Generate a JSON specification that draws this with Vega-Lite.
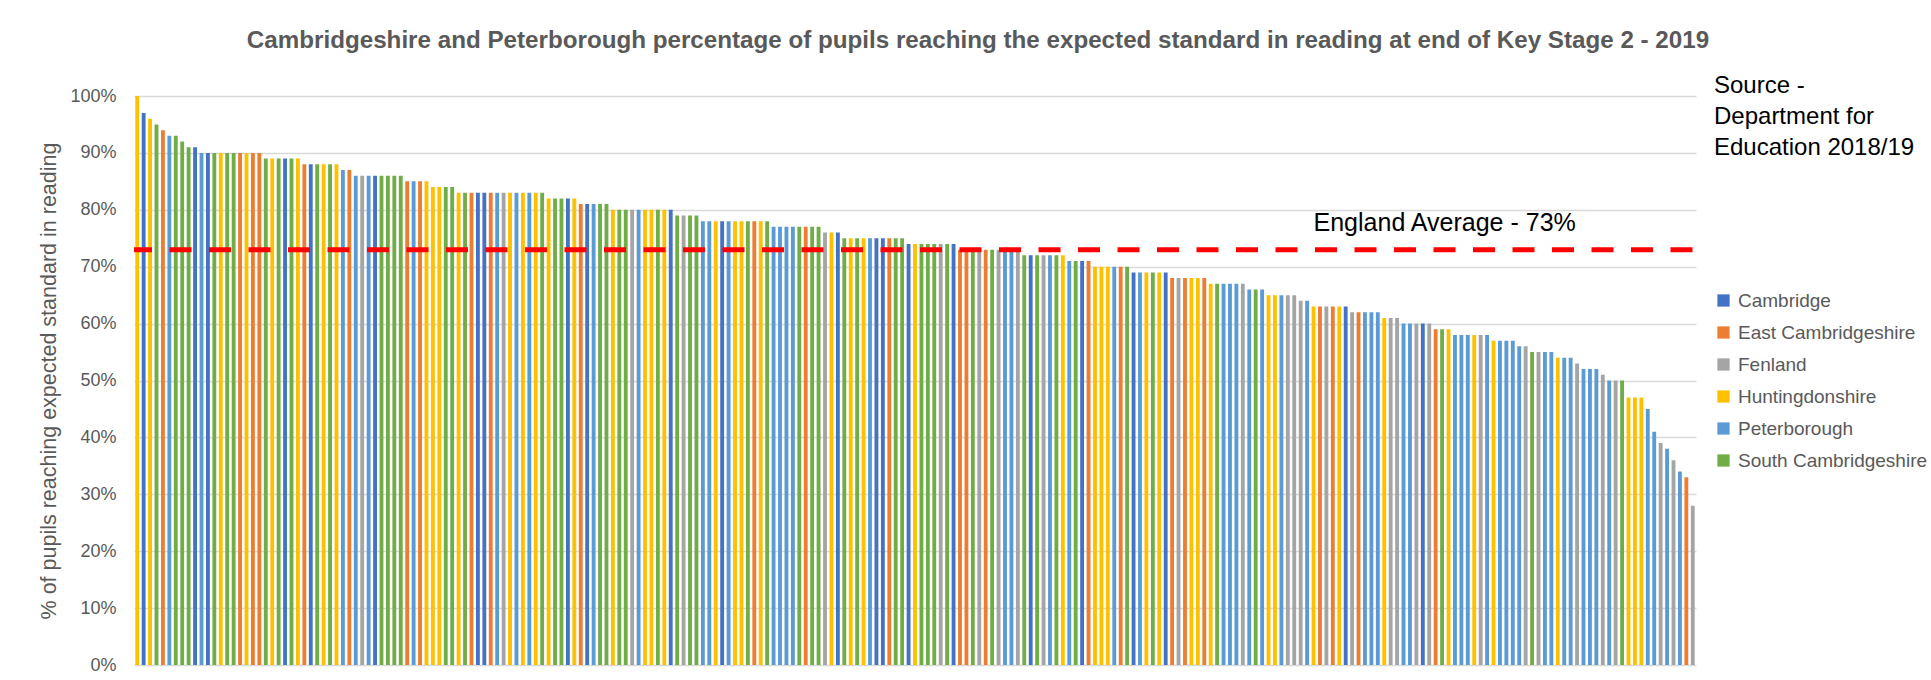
{
  "$schema": "https://vega.github.io/schema/vega-lite/v6.json",
  "autosize": {"type": "none"},
  "width": 1562,
  "height": 569,
  "padding": {"left": 134, "top": 96, "right": 235, "bottom": 15},
  "background": "white",
  "config": {
    "view": {"stroke": null},
    "font": "Liberation Sans"
  },
  "title": {
    "text": "Cambridgeshire and Peterborough percentage of pupils reaching the expected standard in reading at end of Key Stage 2 - 2019",
    "fontSize": 24.2,
    "fontWeight": "bold",
    "color": "#595959",
    "anchor": "middle",
    "frame": "group",
    "offset": 21,
    "dx": 63,
    "font": "Liberation Sans"
  },
  "layer": [
    {
      "data": {"values": [
        {"i":1,"d":"Huntingdonshire","v":100},{"i":2,"d":"Cambridge","v":97},{"i":3,"d":"Huntingdonshire","v":96},{"i":4,"d":"South Cambridgeshire","v":95},{"i":5,"d":"East Cambridgeshire","v":94},
        {"i":6,"d":"Peterborough","v":93},{"i":7,"d":"South Cambridgeshire","v":93},{"i":8,"d":"South Cambridgeshire","v":92},{"i":9,"d":"South Cambridgeshire","v":91},{"i":10,"d":"Cambridge","v":91},
        {"i":11,"d":"Peterborough","v":90},{"i":12,"d":"Cambridge","v":90},{"i":13,"d":"South Cambridgeshire","v":90},{"i":14,"d":"Huntingdonshire","v":90},{"i":15,"d":"South Cambridgeshire","v":90},
        {"i":16,"d":"South Cambridgeshire","v":90},{"i":17,"d":"East Cambridgeshire","v":90},{"i":18,"d":"Huntingdonshire","v":90},{"i":19,"d":"East Cambridgeshire","v":90},{"i":20,"d":"East Cambridgeshire","v":90},
        {"i":21,"d":"South Cambridgeshire","v":89},{"i":22,"d":"Huntingdonshire","v":89},{"i":23,"d":"South Cambridgeshire","v":89},{"i":24,"d":"Cambridge","v":89},{"i":25,"d":"South Cambridgeshire","v":89},
        {"i":26,"d":"Huntingdonshire","v":89},{"i":27,"d":"East Cambridgeshire","v":88},{"i":28,"d":"Cambridge","v":88},{"i":29,"d":"South Cambridgeshire","v":88},{"i":30,"d":"Huntingdonshire","v":88},
        {"i":31,"d":"South Cambridgeshire","v":88},{"i":32,"d":"Huntingdonshire","v":88},{"i":33,"d":"Peterborough","v":87},{"i":34,"d":"East Cambridgeshire","v":87},{"i":35,"d":"Peterborough","v":86},
        {"i":36,"d":"Fenland","v":86},{"i":37,"d":"Peterborough","v":86},{"i":38,"d":"Cambridge","v":86},{"i":39,"d":"South Cambridgeshire","v":86},{"i":40,"d":"South Cambridgeshire","v":86},
        {"i":41,"d":"South Cambridgeshire","v":86},{"i":42,"d":"South Cambridgeshire","v":86},{"i":43,"d":"East Cambridgeshire","v":85},{"i":44,"d":"Peterborough","v":85},{"i":45,"d":"East Cambridgeshire","v":85},
        {"i":46,"d":"Huntingdonshire","v":85},{"i":47,"d":"Huntingdonshire","v":84},{"i":48,"d":"Huntingdonshire","v":84},{"i":49,"d":"South Cambridgeshire","v":84},{"i":50,"d":"South Cambridgeshire","v":84},
        {"i":51,"d":"Huntingdonshire","v":83},{"i":52,"d":"South Cambridgeshire","v":83},{"i":53,"d":"East Cambridgeshire","v":83},{"i":54,"d":"Cambridge","v":83},{"i":55,"d":"Cambridge","v":83},
        {"i":56,"d":"East Cambridgeshire","v":83},{"i":57,"d":"Peterborough","v":83},{"i":58,"d":"Fenland","v":83},{"i":59,"d":"Huntingdonshire","v":83},{"i":60,"d":"Peterborough","v":83},
        {"i":61,"d":"Huntingdonshire","v":83},{"i":62,"d":"Peterborough","v":83},{"i":63,"d":"Huntingdonshire","v":83},{"i":64,"d":"South Cambridgeshire","v":83},{"i":65,"d":"Huntingdonshire","v":82},
        {"i":66,"d":"South Cambridgeshire","v":82},{"i":67,"d":"South Cambridgeshire","v":82},{"i":68,"d":"Cambridge","v":82},{"i":69,"d":"Huntingdonshire","v":82},{"i":70,"d":"East Cambridgeshire","v":81},
        {"i":71,"d":"Cambridge","v":81},{"i":72,"d":"Peterborough","v":81},{"i":73,"d":"South Cambridgeshire","v":81},{"i":74,"d":"South Cambridgeshire","v":81},{"i":75,"d":"Huntingdonshire","v":80},
        {"i":76,"d":"South Cambridgeshire","v":80},{"i":77,"d":"South Cambridgeshire","v":80},{"i":78,"d":"Fenland","v":80},{"i":79,"d":"Peterborough","v":80},{"i":80,"d":"Huntingdonshire","v":80},
        {"i":81,"d":"Huntingdonshire","v":80},{"i":82,"d":"South Cambridgeshire","v":80},{"i":83,"d":"Huntingdonshire","v":80},{"i":84,"d":"Cambridge","v":80},{"i":85,"d":"South Cambridgeshire","v":79},
        {"i":86,"d":"Fenland","v":79},{"i":87,"d":"South Cambridgeshire","v":79},{"i":88,"d":"South Cambridgeshire","v":79},{"i":89,"d":"Peterborough","v":78},{"i":90,"d":"Peterborough","v":78},
        {"i":91,"d":"Huntingdonshire","v":78},{"i":92,"d":"Cambridge","v":78},{"i":93,"d":"Peterborough","v":78},{"i":94,"d":"Huntingdonshire","v":78},{"i":95,"d":"Huntingdonshire","v":78},
        {"i":96,"d":"South Cambridgeshire","v":78},{"i":97,"d":"East Cambridgeshire","v":78},{"i":98,"d":"Huntingdonshire","v":78},{"i":99,"d":"South Cambridgeshire","v":78},{"i":100,"d":"Peterborough","v":77},
        {"i":101,"d":"Peterborough","v":77},{"i":102,"d":"Peterborough","v":77},{"i":103,"d":"Peterborough","v":77},{"i":104,"d":"South Cambridgeshire","v":77},{"i":105,"d":"East Cambridgeshire","v":77},
        {"i":106,"d":"South Cambridgeshire","v":77},{"i":107,"d":"South Cambridgeshire","v":77},{"i":108,"d":"Fenland","v":76},{"i":109,"d":"Huntingdonshire","v":76},{"i":110,"d":"Cambridge","v":76},
        {"i":111,"d":"South Cambridgeshire","v":75},{"i":112,"d":"Huntingdonshire","v":75},{"i":113,"d":"South Cambridgeshire","v":75},{"i":114,"d":"Huntingdonshire","v":75},{"i":115,"d":"Peterborough","v":75},
        {"i":116,"d":"Cambridge","v":75},{"i":117,"d":"Cambridge","v":75},{"i":118,"d":"East Cambridgeshire","v":75},{"i":119,"d":"South Cambridgeshire","v":75},{"i":120,"d":"South Cambridgeshire","v":75},
        {"i":121,"d":"Cambridge","v":74},{"i":122,"d":"Huntingdonshire","v":74},{"i":123,"d":"South Cambridgeshire","v":74},{"i":124,"d":"South Cambridgeshire","v":74},{"i":125,"d":"South Cambridgeshire","v":74},
        {"i":126,"d":"Fenland","v":74},{"i":127,"d":"South Cambridgeshire","v":74},{"i":128,"d":"Cambridge","v":74},{"i":129,"d":"East Cambridgeshire","v":73},{"i":130,"d":"East Cambridgeshire","v":73},
        {"i":131,"d":"South Cambridgeshire","v":73},{"i":132,"d":"Fenland","v":73},{"i":133,"d":"East Cambridgeshire","v":73},{"i":134,"d":"South Cambridgeshire","v":73},{"i":135,"d":"Fenland","v":73},
        {"i":136,"d":"Peterborough","v":73},{"i":137,"d":"Peterborough","v":73},{"i":138,"d":"Fenland","v":73},{"i":139,"d":"South Cambridgeshire","v":72},{"i":140,"d":"Cambridge","v":72},
        {"i":141,"d":"South Cambridgeshire","v":72},{"i":142,"d":"Fenland","v":72},{"i":143,"d":"Peterborough","v":72},{"i":144,"d":"South Cambridgeshire","v":72},{"i":145,"d":"Huntingdonshire","v":72},
        {"i":146,"d":"Peterborough","v":71},{"i":147,"d":"South Cambridgeshire","v":71},{"i":148,"d":"Cambridge","v":71},{"i":149,"d":"East Cambridgeshire","v":71},{"i":150,"d":"Huntingdonshire","v":70},
        {"i":151,"d":"Huntingdonshire","v":70},{"i":152,"d":"Huntingdonshire","v":70},{"i":153,"d":"Peterborough","v":70},{"i":154,"d":"East Cambridgeshire","v":70},{"i":155,"d":"South Cambridgeshire","v":70},
        {"i":156,"d":"Cambridge","v":69},{"i":157,"d":"Peterborough","v":69},{"i":158,"d":"Huntingdonshire","v":69},{"i":159,"d":"South Cambridgeshire","v":69},{"i":160,"d":"Huntingdonshire","v":69},
        {"i":161,"d":"Cambridge","v":69},{"i":162,"d":"East Cambridgeshire","v":68},{"i":163,"d":"Fenland","v":68},{"i":164,"d":"East Cambridgeshire","v":68},{"i":165,"d":"Huntingdonshire","v":68},
        {"i":166,"d":"Huntingdonshire","v":68},{"i":167,"d":"East Cambridgeshire","v":68},{"i":168,"d":"Huntingdonshire","v":67},{"i":169,"d":"South Cambridgeshire","v":67},{"i":170,"d":"Peterborough","v":67},
        {"i":171,"d":"Peterborough","v":67},{"i":172,"d":"Peterborough","v":67},{"i":173,"d":"Fenland","v":67},{"i":174,"d":"Peterborough","v":66},{"i":175,"d":"South Cambridgeshire","v":66},
        {"i":176,"d":"Peterborough","v":66},{"i":177,"d":"Huntingdonshire","v":65},{"i":178,"d":"Huntingdonshire","v":65},{"i":179,"d":"Peterborough","v":65},{"i":180,"d":"Fenland","v":65},
        {"i":181,"d":"Fenland","v":65},{"i":182,"d":"Fenland","v":64},{"i":183,"d":"Peterborough","v":64},{"i":184,"d":"Huntingdonshire","v":63},{"i":185,"d":"East Cambridgeshire","v":63},
        {"i":186,"d":"Fenland","v":63},{"i":187,"d":"East Cambridgeshire","v":63},{"i":188,"d":"Huntingdonshire","v":63},{"i":189,"d":"Cambridge","v":63},{"i":190,"d":"Fenland","v":62},
        {"i":191,"d":"East Cambridgeshire","v":62},{"i":192,"d":"Peterborough","v":62},{"i":193,"d":"Peterborough","v":62},{"i":194,"d":"Peterborough","v":62},{"i":195,"d":"Huntingdonshire","v":61},
        {"i":196,"d":"Fenland","v":61},{"i":197,"d":"Fenland","v":61},{"i":198,"d":"Peterborough","v":60},{"i":199,"d":"Peterborough","v":60},{"i":200,"d":"Fenland","v":60},
        {"i":201,"d":"Cambridge","v":60},{"i":202,"d":"Fenland","v":60},{"i":203,"d":"East Cambridgeshire","v":59},{"i":204,"d":"South Cambridgeshire","v":59},{"i":205,"d":"Huntingdonshire","v":59},
        {"i":206,"d":"Peterborough","v":58},{"i":207,"d":"Peterborough","v":58},{"i":208,"d":"Peterborough","v":58},{"i":209,"d":"Huntingdonshire","v":58},{"i":210,"d":"Fenland","v":58},
        {"i":211,"d":"Peterborough","v":58},{"i":212,"d":"Huntingdonshire","v":57},{"i":213,"d":"Peterborough","v":57},{"i":214,"d":"Peterborough","v":57},{"i":215,"d":"Peterborough","v":57},
        {"i":216,"d":"Peterborough","v":56},{"i":217,"d":"Fenland","v":56},{"i":218,"d":"South Cambridgeshire","v":55},{"i":219,"d":"Fenland","v":55},{"i":220,"d":"Peterborough","v":55},
        {"i":221,"d":"Peterborough","v":55},{"i":222,"d":"Huntingdonshire","v":54},{"i":223,"d":"Peterborough","v":54},{"i":224,"d":"Peterborough","v":54},{"i":225,"d":"Fenland","v":53},
        {"i":226,"d":"Peterborough","v":52},{"i":227,"d":"Peterborough","v":52},{"i":228,"d":"Peterborough","v":52},{"i":229,"d":"Fenland","v":51},{"i":230,"d":"Peterborough","v":50},
        {"i":231,"d":"Fenland","v":50},{"i":232,"d":"South Cambridgeshire","v":50},{"i":233,"d":"Huntingdonshire","v":47},{"i":234,"d":"Huntingdonshire","v":47},{"i":235,"d":"Huntingdonshire","v":47},
        {"i":236,"d":"Peterborough","v":45},{"i":237,"d":"Peterborough","v":41},{"i":238,"d":"Fenland","v":39},{"i":239,"d":"Peterborough","v":38},{"i":240,"d":"Fenland","v":36},
        {"i":241,"d":"Peterborough","v":34},{"i":242,"d":"East Cambridgeshire","v":33},{"i":243,"d":"Fenland","v":28}
      ]},
      "mark": {"type": "bar"},
      "encoding": {
        "x": {"field": "i", "type": "ordinal", "sort": "ascending", "axis": null,
              "scale": {"paddingInner": 0.4, "paddingOuter": 0.2}},
        "y": {"field": "v", "type": "quantitative",
              "scale": {"domain": [0, 100], "nice": false},
              "axis": {
                "values": [0, 10, 20, 30, 40, 50, 60, 70, 80, 90, 100],
                "labelExpr": "datum.value + '%'",
                "title": "% of pupils reaching expected standard in reading",
                "titleFontSize": 21.5, "titleFontWeight": "normal", "titleColor": "#595959", "titlePadding": 9,
                "labelFontSize": 18, "labelColor": "#595959", "labelPadding": 18,
                "ticks": false, "domain": false,
                "grid": true, "gridColor": "#D9D9D9", "gridWidth": 1.5
              }},
        "color": {"field": "d", "type": "nominal",
          "scale": {
            "domain": ["Cambridge", "East Cambridgeshire", "Fenland", "Huntingdonshire", "Peterborough", "South Cambridgeshire"],
            "range": ["#4472C4", "#ED7D31", "#A5A5A5", "#FFC000", "#5B9BD5", "#70AD47"]
          },
          "legend": {
            "orient": "none", "legendX": 1580, "legendY": -22,
            "title": ["Source -", "Department for", "Education 2018/19"],
            "titleFontSize": 24, "titleFontWeight": "normal", "titleColor": "#000000",
            "titleLineHeight": 31, "titlePadding": 131, "titleLimit": 500, "titleAlign": "left", "titleAnchor": "start",
            "symbolType": "square", "symbolSize": 150, "symbolStrokeWidth": 0,
            "labelFontSize": 19, "labelColor": "#595959", "labelOffset": 5, "labelLimit": 400,
            "rowPadding": 12, "padding": 0
          }}
      }
    },
    {
      "data": {"values": [{"avg": 73}]},
      "mark": {"type": "rule", "color": "#FF0000", "strokeWidth": 5, "strokeDash": [22, 17.5], "strokeDashOffset": -3.5},
      "encoding": {"y": {"field": "avg", "type": "quantitative"}}
    },
    {
      "data": {"values": [{"i": 184, "avg": 73, "label": "England Average - 73%"}]},
      "mark": {"type": "text", "align": "left", "baseline": "middle", "dy": -27, "fontSize": 25, "color": "#000000", "font": "Liberation Sans"},
      "encoding": {
        "x": {"field": "i", "type": "ordinal"},
        "y": {"field": "avg", "type": "quantitative"},
        "text": {"field": "label"}
      }
    }
  ]
}
